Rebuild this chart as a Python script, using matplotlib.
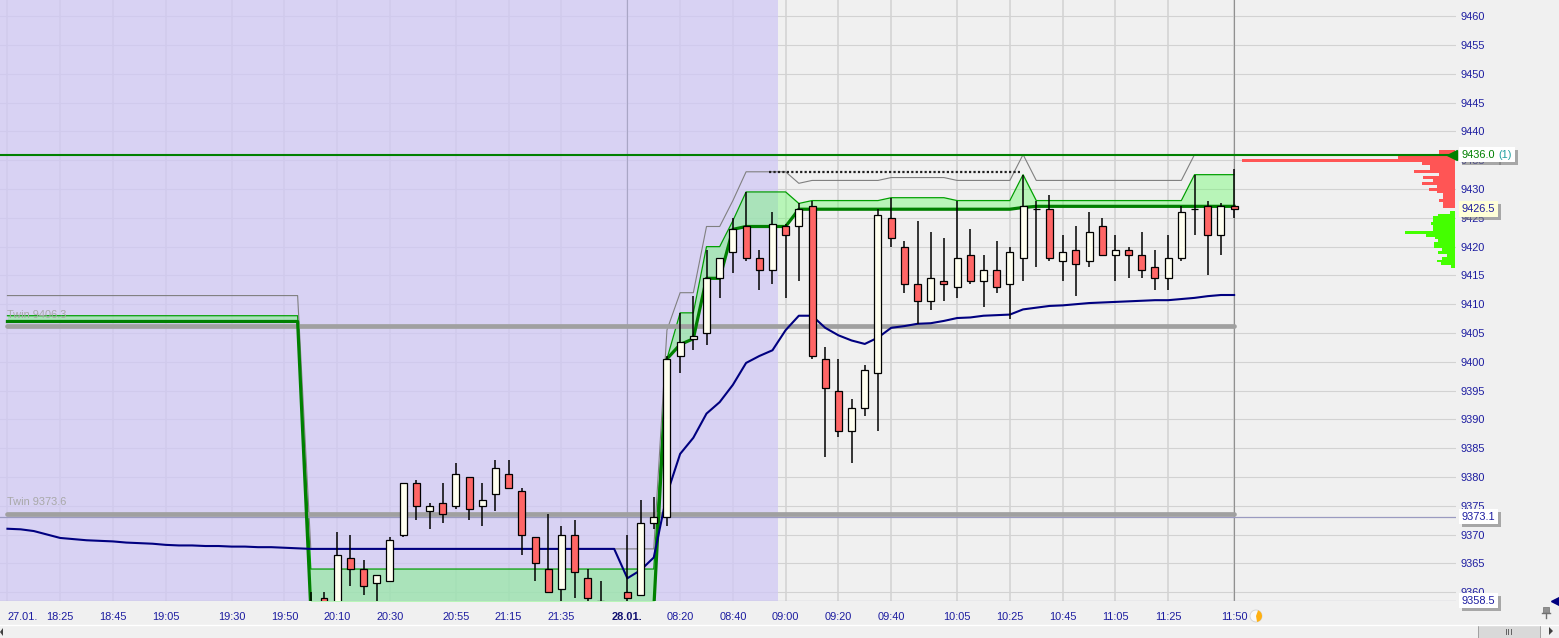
import matplotlib
matplotlib.use('Agg')
import matplotlib.pyplot as plt
import matplotlib.patheffects as pe
from matplotlib.patches import Circle, Rectangle, Wedge, Polygon
import numpy as np

plt.rcParams['font.family'] = ['Liberation Sans', 'DejaVu Sans']

# candles, first one is bar -1
opens = [9355, 9359, 9355, 9366, 9364, 9361.5, 9362, 9370, 9379, 9374,
         9375.5, 9375, 9380, 9375, 9377, 9380.5, 9377.5, 9369.5, 9364, 9360.5,
         9370, 9362.5, 9358.5, 9356, 9360, 9359.5, 9372, 9373, 9401, 9404,
         9405, 9414.5, 9419, 9423.5, 9418, 9416, 9423.5, 9423.5, 9427, 9400.5,
         9395, 9388, 9392, 9398, 9425, 9420, 9413.5, 9410.5, 9414, 9413,
         9418.5, 9414, 9416, 9413.5, 9418, 9426.5, 9426.5, 9417.5, 9419.5, 9417.5,
         9423.5, 9418.5, 9419.5, 9418.5, 9416.5, 9414.5, 9418, 9426.5, 9427, 9422,
         9427]
highs = [9360, 9360, 9370.5, 9370, 9365.5, 9363, 9369.5, 9379, 9379.5, 9375.5,
         9379, 9382.5, 9380, 9379, 9383, 9383, 9378, 9369.5, 9373.5, 9371.5,
         9372.5, 9364, 9362, 9357, 9370, 9376, 9376.5, 9401, 9408.5, 9411.5,
         9419.5, 9418, 9425, 9429.5, 9419.5, 9426, 9424, 9427.5, 9428, 9402.5,
         9400.5, 9393.5, 9399.5, 9426.5, 9428.5, 9421, 9424.5, 9422.5, 9421.5, 9428,
         9423, 9418.5, 9421, 9420, 9432.5, 9428, 9429, 9422, 9423.5, 9426,
         9425, 9422, 9420, 9422.5, 9419.5, 9422, 9427, 9432.5, 9428, 9427.5,
         9433.5]
lows = [9354, 9354, 9354, 9361, 9359.5, 9357, 9362, 9369.5, 9372.5, 9371,
        9372, 9374.5, 9372.5, 9371.5, 9374, 9378, 9366.5, 9362, 9360, 9358,
        9359, 9357, 9355, 9354, 9357, 9359.5, 9371, 9371.5, 9398, 9402,
        9403, 9411, 9415.5, 9417.5, 9412.5, 9413.5, 9411, 9414, 9400.5, 9383.5,
        9387, 9382.5, 9390.5, 9388, 9420, 9412, 9406.5, 9409, 9410.5, 9411,
        9413.5, 9409.5, 9412, 9407.5, 9414, 9416.5, 9417.5, 9414, 9411.5, 9416.5,
        9418.5, 9414, 9414.5, 9414.5, 9412.5, 9412.5, 9417.5, 9422, 9415, 9418.5,
        9425]
closes = [9357, 9355, 9366.5, 9364, 9361, 9363, 9369, 9379, 9375, 9375,
          9373.5, 9380.5, 9374.5, 9376, 9381.5, 9378, 9370, 9365, 9360, 9370,
          9363.5, 9359, 9356, 9355, 9359, 9372, 9373, 9400.5, 9403.5, 9404.5,
          9414.5, 9418, 9423, 9418, 9416, 9424, 9422, 9426.5, 9401, 9395.5,
          9388, 9392, 9398.5, 9425.5, 9421.5, 9413.5, 9410.5, 9414.5, 9413.5, 9418,
          9414, 9416, 9413, 9419, 9427, 9426.5, 9418, 9419, 9417, 9422.5,
          9418.5, 9419.5, 9418.5, 9416, 9414.5, 9418, 9426, 9426.5, 9422, 9427,
          9426.5]

# indicators, first value is bar -24
stop_line = ([9407] * 23 + [9357] * 27 + [9400.5, 9403, 9404, 9414.5, 9414.5, 9423]
             + [9423.5] * 4 + [9426.5] * 17 + [9426.8] + [9427] * 16)
upper_line = ([9408] * 23 + [9364] * 27 + [9400.5, 9408.5, 9408.5, 9420, 9420, 9424.5]
              + [9429.5] * 4 + [9427.5] + [9428] * 6 + [9428.5] * 5 + [9428] * 5
              + [9432.5] + [9428] * 12 + [9432.5] * 4)
gray_line = ([9411.5] * 23 + [9367.5] * 27 + [9405.5, 9412, 9412, 9423.5, 9423.5, 9428]
             + [9433] * 4 + [9431] + [9431.5] * 6 + [9432] * 5 + [9431.5] * 5
             + [9436] + [9431.5] * 12 + [9436] * 4)
navy_line = ([9371, 9370.9, 9370.6, 9370, 9369.4, 9369.2, 9369, 9368.9, 9368.8, 9368.6,
              9368.5, 9368.4, 9368.2, 9368.1, 9368.1, 9368, 9368, 9367.9, 9367.9, 9367.8,
              9367.8, 9367.7, 9367.6] + [9367.5] * 24
             + [9362.4, 9363.8, 9366, 9377, 9384, 9386.8, 9391, 9393, 9396, 9399.8,
                9401, 9402, 9405.5, 9408, 9408, 9405.9, 9404.6, 9403.7, 9403.1, 9404.2,
                9405.9, 9406.2, 9406.6, 9406.7, 9407.1, 9407.6, 9407.7, 9408, 9408.1, 9408.2,
                9409.1, 9409.4, 9409.7, 9409.8, 9410, 9410.2, 9410.3, 9410.4, 9410.5, 9410.6,
                9410.7, 9410.7, 9410.9, 9411.1, 9411.4, 9411.6, 9411.6])

# volume profile
red_levels = [9436.5, 9436, 9435.5, 9435, 9434.5, 9434, 9433.5, 9433, 9432.5, 9432,
              9431.5, 9431, 9430.5, 9430, 9429.5, 9429, 9428.5, 9428, 9427.5, 9427]
red_vol = [16, 16, 57, 213, 33, 25, 25, 41, 16, 32, 22, 33, 18, 26, 18, 12, 12, 16, 12, 12]
green_levels = [9426, 9425.5, 9425, 9424.5, 9424, 9423.5, 9423, 9422.5, 9422, 9421.5,
                9421, 9420.5, 9420, 9419.5, 9419, 9418.5, 9418, 9417.5, 9417, 9416.5]
green_vol = [5, 17, 22, 22, 24, 22, 22, 50, 29, 20, 17, 21, 21, 13, 17, 8, 13, 18, 14, 4]

time_ticks = [-24, -20, -16, -12, -7, -3, 1, 5, 10, 14, 18, 23, 27, 31, 35, 39, 43, 48, 52, 56, 60, 64, 69]
time_labels = ['27.01.', '18:25', '18:45', '19:05', '19:30', '19:50', '20:10', '20:30', '20:55',
               '21:15', '21:35', '28.01.', '08:20', '08:40', '09:00', '09:20', '09:40', '10:05',
               '10:25', '10:45', '11:05', '11:25', '11:50']
price_ticks = list(range(9360, 9465, 5))

bar_px = 13.19
bg = '#f0f0f0'
text_blue = '#1c1ca0'
dark_green = '#008000'
fs = 7.9

fig = plt.figure(figsize=(15.59, 6.38), dpi=100, facecolor=bg)
ax = fig.add_axes([0, 37 / 638, 1456 / 1559, 601 / 638], facecolor=bg)
ax.set_xlim(-324 / bar_px, (1456 - 324) / bar_px)
ax.set_ylim(9358.45, 9462.84)
for s in ax.spines.values():
    s.set_visible(False)

ax.set_axisbelow(True)
ax.yaxis.tick_right()
ax.set_yticks(price_ticks)
ax.set_xticks(time_ticks)
ax.set_xticklabels(time_labels)
ax.tick_params(axis='y', length=0, pad=3, labelsize=fs, labelcolor=text_blue)
ax.tick_params(axis='x', length=0, pad=8, labelsize=fs, labelcolor=text_blue)
ax.grid(axis='y', color='#d2d2d2', lw=0.8)
ax.grid(axis='x', color='#d4d4d4', lw=1.2)
ax.get_xticklabels()[0].set_ha('left')
ax.get_xticklabels()[11].set_fontweight('bold')
ax.get_xticklabels()[11].set_color('#101070')

# evening session
ax.axvspan(-324 / bar_px, 34.42, color='#d0c8f5', alpha=0.75, lw=0, zorder=1)
ax.axvline(23, color='#a9a6c5', lw=0.8, zorder=1.2)
ax.axvline(69, color='#909090', lw=0.8, zorder=1.2)

ind_x = np.arange(-24, 70)
ax.fill_between(ind_x, stop_line, upper_line, color='#66ff66', alpha=0.4, lw=0, zorder=2)
ax.plot(ind_x, upper_line, color='#00a000', lw=0.9, zorder=2.2)
ax.plot(ind_x, gray_line, color='#808080', lw=0.8, zorder=2.2)

# twin levels and last price lines
ax.plot([-24, 69], [9406.3, 9406.3], color='#a0a0a0', lw=3.4, solid_capstyle='round', zorder=2.3)
ax.plot([-24, 69], [9373.6, 9373.6], color='#a0a0a0', lw=3.4, solid_capstyle='round', zorder=2.3)
ax.axhline(9373.1, color='#9a9ac0', lw=0.9, zorder=2.25)
ax.axhline(9358.5, color='#b8b8c8', lw=0.9, zorder=2.3)
ax.text(-24, 9408.1, 'Twin 9406.3', color='#a8a8a8', fontsize=fs, va='center', zorder=2.4)
ax.text(-24, 9375.7, 'Twin 9373.6', color='#a8a8a8', fontsize=fs, va='center', zorder=2.4)

ax.plot(ind_x, stop_line, color=dark_green, lw=2.3, zorder=2.6)
ax.plot(ind_x, navy_line, color='#000080', lw=1.5, zorder=2.7)
ax.plot([33.7, 52.8], [9433, 9433], color='#202020', lw=1.6, ls=(0, (1, 1)), zorder=2.8)

# volume profile, bars grow leftwards from the axis edge
prof_right = (1455 - 324) / bar_px
ax.barh(red_levels, -np.array(red_vol) / bar_px, left=prof_right, height=0.5, color='#ff5555', lw=0, zorder=2.9)
ax.barh(green_levels, -np.array(green_vol) / bar_px, left=prof_right, height=0.5, color='#44ff00', lw=0, zorder=2.9)

ax.axhline(9436, color=dark_green, lw=1.5, zorder=3)

# candles
bars = np.arange(-1, 70)
o = np.array(opens)
c = np.array(closes)
ax.vlines(bars, lows, highs, color='black', lw=1.1, zorder=4)
colors = ['#fffff0' if cl >= op else '#ff6666' for op, cl in zip(opens, closes)]
ax.bar(bars, c - o, bottom=o, width=0.53, color=colors, edgecolor='black', lw=0.9, zorder=5)


# price boxes on the right
def price_box(text, price, dx, fc='white', color=text_blue):
    t = ax.annotate(text, xy=(1, price), xycoords=ax.get_yaxis_transform(),
                    xytext=(dx, 0), textcoords='offset pixels', fontsize=fs, color=color,
                    va='center', ha='left', zorder=20, annotation_clip=False,
                    bbox=dict(boxstyle='square,pad=0.25', fc=fc, ec='none'))
    t.get_bbox_patch().set_path_effects([pe.withSimplePatchShadow(offset=(2, -2), shadow_rgbFace='#777777', alpha=0.6)])
    return t


price_box('9426.5', 9426.5, 6, fc='#ffffd8')
price_box('9373.1', 9373.1, 6)
price_box('9358.5', 9358.5, 6)
first = price_box('9436.0', 9436, 6, color=dark_green)
second = ax.annotate('(1)', xy=(1, 0.5), xycoords=first, xytext=(3, 0), textcoords='offset pixels',
                     fontsize=fs, color='#20a0a0', va='center', ha='left', zorder=20.5, annotation_clip=False,
                     bbox=dict(boxstyle='square,pad=0.25', fc='white', ec='none'))
second.get_bbox_patch().set_path_effects([pe.withSimplePatchShadow(offset=(2, -2), shadow_rgbFace='#777777', alpha=0.6)])
ax.plot([0.9973], [9436], marker='<', ms=7.5, color=dark_green, lw=0, transform=ax.get_yaxis_transform(),
        clip_on=False, zorder=19)
ax.plot([1.068], [9358.5], marker='<', ms=6, color='#000080', lw=0, transform=ax.get_yaxis_transform(),
        clip_on=False, zorder=19)

# window parts, in pixels
top = fig.add_axes([0, 0, 1, 1], facecolor='none', zorder=5)
top.set_xlim(0, 1559)
top.set_ylim(638, 0)
top.axis('off')
top.plot([0, 1559], [624.5, 624.5], color='white', lw=1)
top.add_patch(Rectangle((1478, 625), 62, 13, fc='#d9d9d9', ec='#a0a0a0', lw=0.7))
top.plot([1506, 1506], [629, 634], color='#606060', lw=0.7)
top.plot([1508.5, 1508.5], [629, 634], color='#606060', lw=0.7)
top.plot([1511, 1511], [629, 634], color='#606060', lw=0.7)
top.add_patch(Polygon([(1549, 627), (1549, 635), (1553, 631)], fc='#404040', ec='none'))
top.add_patch(Polygon([(3, 628), (3, 636), (0, 632)], fc='#404040', ec='none'))
top.add_patch(Rectangle((1543, 607), 6, 6, fc='#909090', ec='#707070', lw=0.5))
top.plot([1546, 1546], [613, 618], color='#707070', lw=1)
top.plot([1542, 1550], [613, 613], color='#707070', lw=1)
top.add_patch(Circle((1256, 616), 6, fc='#f8f8f8', ec='#d0d0d0', lw=0.6))
top.add_patch(Wedge((1256, 616), 6, -70, 80, fc='#ffb010', ec='none'))

fig.savefig('out.png', dpi=100, facecolor=bg)
